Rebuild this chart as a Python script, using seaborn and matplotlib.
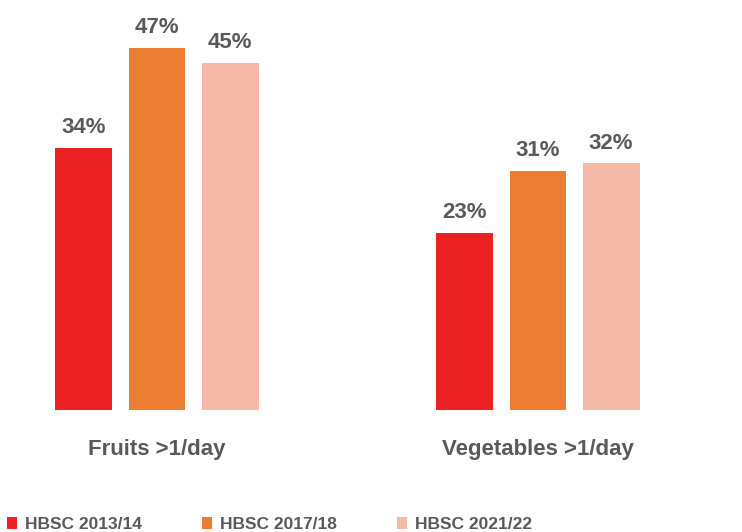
import pandas as pd
import matplotlib.pyplot as plt
import seaborn as sns
from matplotlib.patches import Patch

# Data
categories = ["Fruits >1/day", "Vegetables >1/day"]
surveys = ["HBSC 2013/14", "HBSC 2017/18", "HBSC 2021/22"]
values_2013 = [34, 23]
values_2017 = [47, 31]
values_2021 = [45, 32]

colors = ["#ED2124", "#ED7D31", "#F4B9A7"]
text_grey = "#595959"

df = pd.DataFrame({
    "category": categories * 3,
    "survey": [surveys[0]] * 2 + [surveys[1]] * 2 + [surveys[2]] * 2,
    "value": values_2013 + values_2017 + values_2021,
})

sns.set_theme(style="white")
plt.rcParams["font.family"] = ["Liberation Sans", "DejaVu Sans"]

fig = plt.figure(figsize=(7.42, 5.32), dpi=100)
# axes spans full width; baseline at y=410 px from top
ax = fig.add_axes([0, 122 / 532, 1, 410 / 532])

sns.barplot(
    data=df, x="category", y="value", hue="survey",
    palette=colors, width=0.575, gap=0.22, ax=ax, legend=False,
    saturation=1, linewidth=0,
)

ax.set_xlim(-157 / 381, (742 - 157) / 381)
ax.set_ylim(0, 410.7 / 7.72)

for c in ax.containers:
    ax.bar_label(c, fmt="%d%%", padding=7, fontsize=16, fontweight="bold",
                 color=text_grey)

ax.set_xlabel("")
ax.set_ylabel("")
ax.set_yticks([])
ax.tick_params(axis="x", length=0, pad=21, labelsize=16, labelcolor=text_grey)
for lab in ax.get_xticklabels():
    lab.set_fontweight("bold")
sns.despine(ax=ax, left=True, bottom=True)

# legend along the bottom edge
handles = [Patch(facecolor=col, edgecolor="none") for col in colors]
leg = fig.legend(
    handles, surveys, loc="lower left", bbox_to_anchor=(7 / 742, 0),
    ncol=3, frameon=False, borderpad=0, borderaxespad=0,
    handlelength=0.6, handleheight=0.75, handletextpad=0.45,
    columnspacing=3.45,
    prop={"weight": "bold", "size": 12.5},
)
for t in leg.get_texts():
    t.set_color(text_grey)

fig.savefig("out.png", dpi=100)
